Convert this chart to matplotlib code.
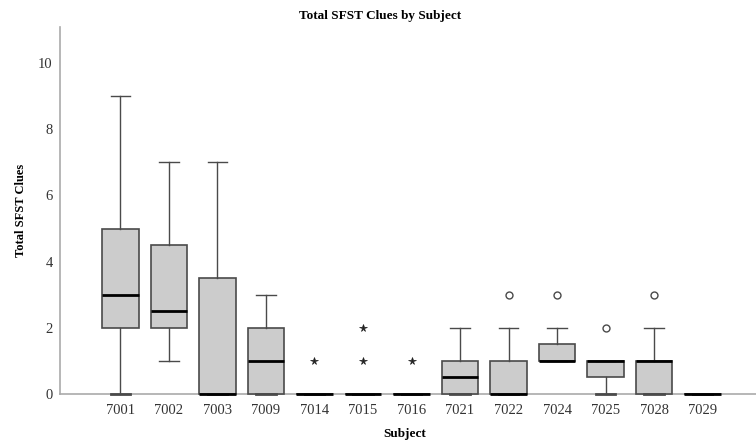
import numpy as np
import matplotlib
matplotlib.use("Agg")
import matplotlib.pyplot as plt

plt.rcParams['font.family'] = ['Liberation Serif', 'DejaVu Serif']

subjects = ['7001', '7002', '7003', '7009', '7014', '7015', '7016',
            '7021', '7022', '7024', '7025', '7028', '7029']
whislo = [0, 1, 0, 0, 0, 0, 0, 0, 0, 1, 0, 0, 0]
q1     = [2, 2, 0, 0, 0, 0, 0, 0, 0, 1, 0.5, 0, 0]
med    = [3, 2.5, 0, 1, 0, 0, 0, 0.5, 0, 1, 1, 1, 0]
q3     = [5, 4.5, 3.5, 2, 0, 0, 0, 1, 1, 1.5, 1, 1, 0]
whishi = [9, 7, 7, 3, 0, 0, 0, 2, 2, 2, 1, 2, 0]
# SPSS: circles = outliers, stars = extremes
outliers = {'7022': [3], '7024': [3], '7025': [2], '7028': [3]}
extremes = {'7014': [1], '7015': [1, 2], '7016': [1]}

stats = []
for i, s in enumerate(subjects):
    stats.append(dict(label=s, whislo=whislo[i], q1=q1[i], med=med[i],
                      q3=q3[i], whishi=whishi[i], fliers=[]))

fig = plt.figure(figsize=(7.56, 4.41), dpi=100)
ax = fig.add_axes([0.079, 0.107, 0.921, 0.832])

edge = '#4a4a4a'
pos = np.arange(len(subjects))
bp = ax.bxp(stats, positions=pos, widths=0.75, patch_artist=True, showfliers=False,
            boxprops=dict(facecolor='#cccccc', edgecolor=edge, linewidth=1.2),
            whiskerprops=dict(color=edge, linewidth=1),
            capprops=dict(color=edge, linewidth=1),
            medianprops=dict(color='black', linewidth=2),
            capwidths=0.4)
for key in bp:
    for art in bp[key]:
        art.set_zorder(3)
        art.set_clip_on(False)
for c in bp['caps']:
    if c.get_ydata()[0] == 0:
        c.set_linewidth(2)

for s, vals in outliers.items():
    i = subjects.index(s)
    ax.plot([i] * len(vals), vals, 'o', mfc='none', mec=edge, ms=5, mew=1)
for s, vals in extremes.items():
    i = subjects.index(s)
    ax.plot([i] * len(vals), vals, '*', color='#222222', ms=5.5, mew=0.5)

ax.set_xlim(-1.25, 13.1)
ax.set_ylim(0, 11.1)
ax.set_yticks([0, 2, 4, 6, 8, 10])
ax.tick_params(length=0, labelsize=10.5, colors='#333333')
ax.tick_params(axis='x', pad=7)
ax.tick_params(axis='y', pad=5)

for sp in ['top', 'right']:
    ax.spines[sp].set_visible(False)
for sp in ['left', 'bottom']:
    ax.spines[sp].set_color('#aaaaaa')
    ax.spines[sp].set_linewidth(1.2)

ax.set_title('Total SFST Clues by Subject', fontsize=9.5, fontweight='bold', pad=6)
ax.title.set_x(0.46)
ax.set_ylabel('Total SFST Clues', fontsize=9, fontweight='bold')
ax.yaxis.set_label_coords(-0.047, 0.5)
ax.set_xlabel('Subject', fontsize=9.5, fontweight='bold')
ax.xaxis.set_label_coords(0.496, -0.093)

fig.savefig('out.png', dpi=100)
